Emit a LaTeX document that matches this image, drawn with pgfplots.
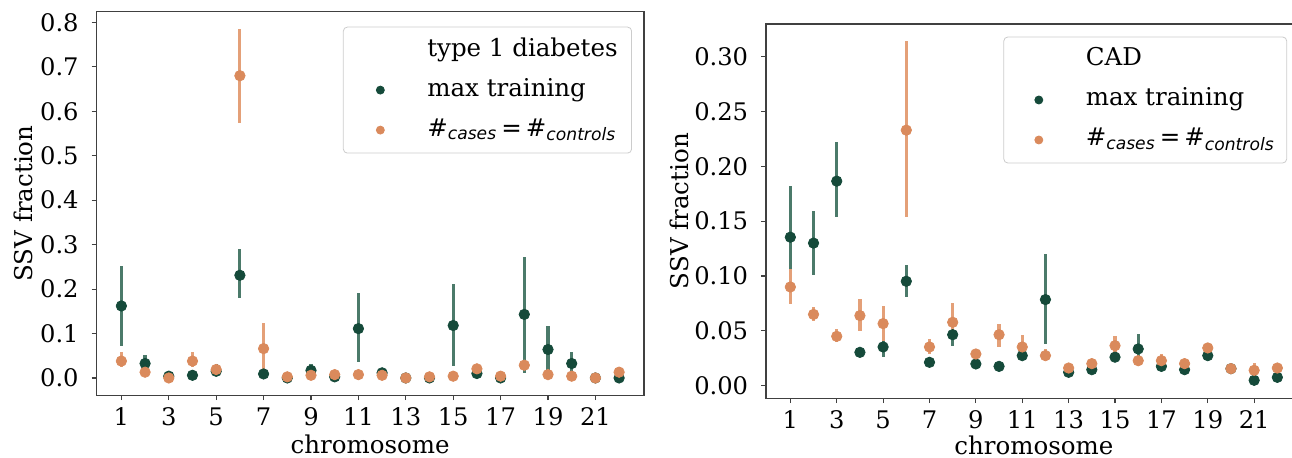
\documentclass[border=0pt]{standalone}
\usepackage{fontspec}
\setmainfont{DejaVu Serif}
\newfontfamily\dvsans{DejaVu Sans}
\usepackage{pgfplots}
\usepackage{pgfplotstable}
\pgfplotsset{compat=1.18}

\definecolor{cgreen}{HTML}{154A3A}
\definecolor{cgreenbar}{HTML}{4B7A6A}
\definecolor{corange}{HTML}{DA8A5C}
\definecolor{corangebar}{HTML}{E4A078}

% type 1 diabetes
\pgfplotstableread{
chr y ep em
1 0.162 0.090 0.090
2 0.0325 0.0195 0.0145
3 0.004 0 0
4 0.006 0 0
5 0.015 0.0175 0.010
6 0.231 0.059 0.052
7 0.009 0.003 0.003
8 0.000 0 0
9 0.017 0.0155 0.012
10 0.0025 0 0
11 0.111 0.080 0.075
12 0.0115 0.003 0.003
13 0.000 0 0
14 0.000 0 0
15 0.118 0.093 0.092
16 0.010 0.004 0.004
17 0.000 0 0
18 0.143 0.128 0.132
19 0.064 0.054 0.053
20 0.0325 0.0255 0.0205
21 0.000 0 0
22 0.000 0 0
}\tdgreen
\pgfplotstableread{
chr y ep em
1 0.038 0.020 0.013
2 0.013 0 0
3 0.000 0 0
4 0.038 0.020 0.013
5 0.019 0.005 0.005
6 0.680 0.105 0.106
7 0.066 0.058 0.054
8 0.0025 0 0
9 0.006 0 0
10 0.0075 0 0
11 0.0075 0 0
12 0.006 0 0
13 0.000 0 0
14 0.0025 0 0
15 0.004 0 0
16 0.0205 0.004 0.004
17 0.004 0 0
18 0.0287 0.005 0.005
19 0.0075 0 0
20 0.004 0 0
21 0.000 0 0
22 0.013 0.003 0.003
}\tdorange

% CAD
\pgfplotstableread{
chr y ep em
1 0.1354 0.0466 0.0454
2 0.130 0.029 0.029
3 0.1865 0.0355 0.033
4 0.0304 0 0
5 0.0353 0.0117 0.0093
6 0.0952 0.0148 0.0142
7 0.0213 0.002 0.002
8 0.0465 0.0105 0.0105
9 0.0198 0.002 0.002
10 0.0176 0.002 0.002
11 0.0274 0.0076 0.0034
12 0.0785 0.042 0.0402
13 0.0122 0.002 0.002
14 0.0146 0.002 0.002
15 0.026 0.002 0.002
16 0.0335 0.0135 0.0095
17 0.0176 0.002 0.002
18 0.0146 0.002 0.002
19 0.0274 0.002 0.002
20 0.0155 0.001 0.001
21 0.0049 0.001 0.001
22 0.0076 0.001 0.001
}\cadgreen
\pgfplotstableread{
chr y ep em
1 0.090 0.0168 0.0152
2 0.065 0.0067 0.0063
3 0.045 0.0067 0.005
4 0.0639 0.0151 0.0143
5 0.0566 0.0164 0.0156
6 0.233 0.0813 0.0794
7 0.0353 0.0073 0.0063
8 0.0578 0.0177 0.0128
9 0.0289 0.003 0.003
10 0.0465 0.0101 0.0112
11 0.0353 0.0112 0.011
12 0.0274 0.0061 0.0044
13 0.0161 0.002 0.002
14 0.0201 0.002 0.002
15 0.0365 0.0085 0.0075
16 0.0228 0.002 0.002
17 0.0228 0.0062 0.0052
18 0.0201 0.002 0.002
19 0.0344 0.0046 0.003
20 0.0155 0.002 0.002
21 0.014 0.0067 0.0055
22 0.0161 0.002 0.002
}\cadorange

\pgfplotsset{
  ssv/.style={
    scale only axis,
    xmin=-0.05, xmax=23.05,
    xtick={1,3,...,21},
    tick align=outside,
    major tick length=2.4pt,
    tick pos=left,
    axis line style={black!75, line width=0.55pt},
    tick style={black!75, line width=0.55pt},
    ticklabel style={font=\fontsize{12.1}{14}\selectfont},
    xticklabel style={yshift=-1.5pt, inner sep=2pt},
    yticklabel style={xshift=-3pt},
    label style={font=\fontsize{12.25}{14}\selectfont},
    xlabel style={inner sep=0.5pt},
    /pgf/number format/assume math mode=true,
    xlabel={chromosome},
    ylabel={SSV fraction},
    legend cell align=left,
    legend image code/.code={%
      \path[draw=none, fill=none] (0pt,-2pt) rectangle (35pt,2pt);
      \draw[##1] plot coordinates {(13.5pt,0pt)};},
    legend style={anchor=north east, draw=black!20, rounded corners=2pt,
      fill=white, font=\fontsize{12.25}{14}\selectfont,
      inner xsep=5pt, inner ysep=3pt, row sep=3pt,
      nodes={inner sep=2pt, text height=9.5pt, text depth=3.5pt}},
  },
  ebars/.style={
    error bars/y dir=both, error bars/y explicit, error bars/error mark=none,
    error bars/error bar style={line width=1.6pt, color=#1}},
  gpts/.style={only marks, mark=*, mark size=2.6pt, color=cgreen, ebars=cgreenbar},
  opts/.style={only marks, mark=*, mark size=2.6pt, color=corange, ebars=corangebar},
}
\newcommand{\balanced}{{\dvsans\#\textsubscript{\itshape cases}\,=\,\#\textsubscript{\itshape controls}}}

\begin{document}
\begin{tikzpicture}
\path[use as bounding box] (-48.25pt,-31.35pt) rectangle (597.75pt,197.65pt);

\begin{axis}[ssv,
  at={(0pt,0pt)}, anchor=south west,
  width=273.75pt, height=191.8pt,
  ymin=-0.039, ymax=0.824,
  ytick={0,0.1,0.2,0.3,0.4,0.5,0.6,0.7,0.8},
  yticklabel style={/pgf/number format/.cd, fixed, fixed zerofill, precision=1},
  ylabel style={at={(axis description cs:-0.1342,0.5)}, anchor=center},
  xlabel style={at={(axis description cs:0.5,-0.1278)}, anchor=center},
  legend style={at={(1,1)}, xshift=-6pt, yshift=-7.5pt},
]
\addlegendimage{empty legend}
\addlegendentry{type 1 diabetes}
\addlegendimage{only marks, mark=*, mark size=2pt, color=cgreen}
\addlegendentry{max training}
\addlegendimage{only marks, mark=*, mark size=2pt, color=corange}
\addlegendentry{\balanced}
\addplot[forget plot, gpts] table[x=chr, y=y, y error plus=ep, y error minus=em] {\tdgreen};
\addplot[forget plot, opts] table[x=chr, y=y, y error plus=ep, y error minus=em] {\tdorange};
\end{axis}

\begin{axis}[ssv,
  at={(334.75pt,-1.5pt)}, anchor=south west,
  width=267.85pt, height=187.15pt,
  ymin=-0.0115, ymax=0.3298,
  ytick={0,0.05,0.10,0.15,0.20,0.25,0.30},
  yticklabel style={/pgf/number format/.cd, fixed, fixed zerofill, precision=2},
  ylabel style={at={(axis description cs:-0.1624,0.5)}, anchor=center},
  xlabel style={at={(axis description cs:0.5,-0.1257)}, anchor=center},
  legend style={at={(1,1)}, xshift=-7.3pt, yshift=-6.3pt, inner xsep=4pt},
]
\addlegendimage{empty legend}
\addlegendentry{CAD}
\addlegendimage{only marks, mark=*, mark size=2pt, color=cgreen}
\addlegendentry{max training}
\addlegendimage{only marks, mark=*, mark size=2pt, color=corange}
\addlegendentry{\balanced}
\addplot[forget plot, gpts] table[x=chr, y=y, y error plus=ep, y error minus=em] {\cadgreen};
\addplot[forget plot, opts] table[x=chr, y=y, y error plus=ep, y error minus=em] {\cadorange};
\end{axis}
\end{tikzpicture}
\end{document}
